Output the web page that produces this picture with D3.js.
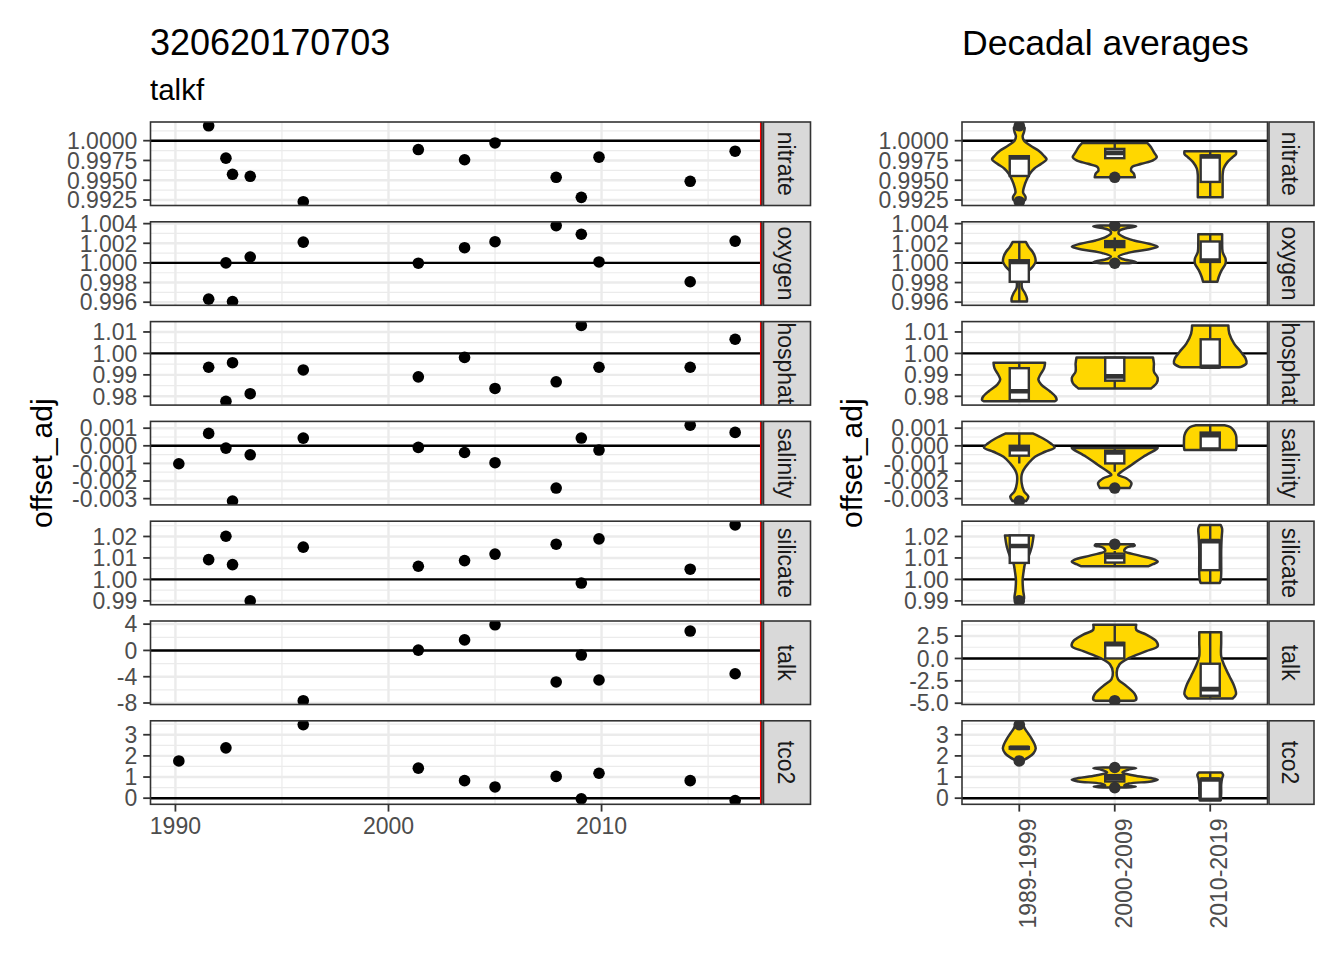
<!DOCTYPE html>
<html><head><meta charset="utf-8">
<script src="https://cdn.jsdelivr.net/npm/d3@7"></script>
<style>body{margin:0;background:#fff} text{font-family:"Liberation Sans", Arial, sans-serif}</style>
</head><body>
<svg id="c" width="1344" height="960"></svg>
<script>
// ---------------- data ----------------
const params = ["nitrate","oxygen","phosphate","salinity","silicate","talk","tco2"];
const refLine = [1, 1, 1, 0, 1, 0, 0];
const years = [1990.16, 1991.56, 1992.37, 1992.68, 1993.51, 1996.0, 2001.4, 2003.57, 2005.0, 2007.87, 2009.05, 2009.88, 2014.16, 2016.27];
const nitrate   = [null, 1.00188, 0.99779, 0.99575, 0.9955, 0.99229, 0.99888, 0.99759, 0.99971, 0.99537, 0.99284, 0.99792, 0.99487, 0.99867];
const oxygen    = [null, 0.99631, 1.0000, 0.99607, 1.0006, 1.00212, 0.99997, 1.00155, 1.00216, 1.0038, 1.00292, 1.0001, 0.99808, 1.00222];
const phosphate = [null, 0.99354, 0.97767, 0.99566, 0.98122, 0.99229, 0.98906, 0.99815, 0.98367, 0.98676, 1.01306, 0.99354, 0.99354, 1.0066];
const salinity  = [-0.00102, 0.000703, -0.00013, -0.00314, -0.00051, 0.000437, -0.00009, -0.00038, -0.00096, -0.0024, 0.00044, -0.00024, 0.00117, 0.00076];
const silicate  = [null, 1.00922, 1.0201, 1.00691, 0.98999, 1.01502, 1.00613, 1.00876, 1.0118, 1.0164, 0.9983, 1.0189, 1.00475, 1.02535];
const talk      = [null, null, null, null, null, -7.65, 0.05, 1.6, 3.9, -4.8, -0.7, -4.5, 2.95, -3.55];
const tco2      = [1.76, null, 2.38, null, null, 3.48, 1.42, 0.83, 0.53, 1.03, -0.03, 1.18, 0.83, -0.11];

const xDomain = [1988.83, 2017.53];
const cruiseYear = 2017.5;
const xMajor = [1990, 2000, 2010];
const xMinor = [1995, 2005, 2015];

const leftTicks  = [[0.9925,0.995,0.9975,1],[0.996,0.998,1,1.002,1.004],[0.98,0.99,1,1.01],[-0.003,-0.002,-0.001,0,0.001],[0.99,1,1.01,1.02],[-8,-4,0,4],[0,1,2,3]];
const rightTicks = [[0.9925,0.995,0.9975,1],[0.996,0.998,1,1.002,1.004],[0.98,0.99,1,1.01],[-0.003,-0.002,-0.001,0,0.001],[0.99,1,1.01,1.02],[-5,-2.5,0,2.5],[0,1,2,3]];
const leftFmt  = [".4f",".3f",".2f",".3f",".2f","d","d"];
const rightFmt = [".4f",".3f",".2f",".3f",".2f",".1f","d"];

const decades = ["1989-1999","2000-2009","2010-2019"];
// violin profiles: [value, half width in category units]; box: [lower whisker, q1, median, q3, upper whisker]
const vio_nitrate = [
  [[1.00188,0.03],[1.00167,0.055],[1.00113,0.05],[1.00054,0.035],[1.0,0.05],[0.99938,0.115],[0.99875,0.2],[0.99813,0.255],[0.99763,0.285],[0.99708,0.23],[0.99646,0.155],[0.99583,0.11],[0.995,0.075],[0.99417,0.05],[0.99346,0.04],[0.99292,0.065],[0.9925,0.06],[0.99229,0.03]],
  [[0.99971,0.34],[0.99917,0.38],[0.99854,0.41],[0.99792,0.44],[0.9975,0.40],[0.99708,0.28],[0.99667,0.18],[0.99625,0.17],[0.99583,0.2],[0.99537,0.21]],
  [[0.99867,0.27],[0.99833,0.27],[0.99792,0.235],[0.99729,0.18],[0.99646,0.14],[0.99563,0.13],[0.99479,0.13],[0.99396,0.13],[0.99284,0.13]]];
const box_nitrate = [[0.99554,0.99554,0.99788,0.99804,0.99804],[0.99779,0.99779,0.99846,0.99896,0.99971],[0.99284,0.99479,0.998,0.99813,0.99867]];
const out_nitrate = [[1.00188,0.99229],[0.99537],[]];

const vio_oxygen = [
  [[1.00212,0.07],[1.00161,0.1],[1.00111,0.14],[1.0006,0.165],[1.0001,0.17],[0.9996,0.14],[0.99909,0.09],[0.99842,0.04],[0.99792,0.025],[0.99741,0.03],[0.99691,0.06],[0.9964,0.08],[0.99607,0.08]],
  [[1.0038,0.15],[1.00372,0.225],[1.00355,0.13],[1.0033,0.05],[1.003,0.04],[1.00265,0.09],[1.00229,0.2],[1.00195,0.36],[1.00165,0.45],[1.00135,0.33],[1.001,0.13],[1.00065,0.04],[1.0004,0.08],[1.00015,0.2],[1.00005,0.225],[0.99997,0.15]],
  [[1.00292,0.125],[1.00212,0.125],[1.00111,0.13],[1.00044,0.16],[0.99993,0.16],[0.99926,0.12],[0.99859,0.09],[0.99808,0.075]]];
const box_oxygen = [[0.99607,0.99808,1.0001,1.00027,1.00212],[1.0012,1.00161,1.00195,1.00222,1.0026],[0.99808,1.0001,1.00025,1.00218,1.00292]];
const out_oxygen = [[],[1.0038,0.99997],[]];

const vio_phosphate = [
  [[0.99566,0.27],[0.99311,0.26],[0.99005,0.22],[0.98775,0.2],[0.98545,0.23],[0.98239,0.32],[0.97979,0.38],[0.97825,0.39],[0.97767,0.37]],
  [[0.99815,0.4],[0.99541,0.41],[0.99158,0.41],[0.98851,0.45],[0.98622,0.44],[0.98438,0.4],[0.98367,0.38]],
  [[1.01306,0.19],[1.00919,0.2],[1.00459,0.25],[1.00077,0.32],[0.9977,0.37],[0.99541,0.38],[0.99387,0.33],[0.99354,0.3]]];
const box_phosphate = [[0.97767,0.97825,0.98239,0.99311,0.99566],[0.98367,0.98729,0.98928,0.99801,0.99815],[0.99354,0.99354,0.99375,1.00658,1.01306]];
const out_phosphate = [[],[],[]];

const vio_salinity = [
  [[0.000703,0.14],[0.000414,0.25],[0.000132,0.33],[-0.000094,0.37],[-0.000338,0.27],[-0.00062,0.165],[-0.000996,0.095],[-0.00137,0.045],[-0.00165,0.025],[-0.00212,0.025],[-0.00259,0.05],[-0.00288,0.095],[-0.00314,0.07]],
  [[-0.00012,0.45],[-0.00018,0.44],[-0.00062,0.3],[-0.00109,0.175],[-0.00147,0.07],[-0.00165,0.035],[-0.00184,0.12],[-0.00212,0.175],[-0.0024,0.155]],
  [[0.00117,0.15],[0.00107,0.21],[0.00088,0.245],[0.0006,0.27],[0.000226,0.275],[-0.000056,0.275],[-0.00024,0.27]]];
const box_salinity = [[-0.001,-0.00056,-0.0002,0.0,0.000703],[-0.00147,-0.001,-0.00038,-0.00028,-0.00012],[-0.00024,-0.00015,0.0006,0.00075,0.00117]];
const out_salinity = [[-0.00314],[-0.0024],[]];

const vio_silicate = [
  [[1.0205,0.15],[1.01508,0.13],[1.01046,0.095],[1.00738,0.06],[1.00354,0.045],[0.99969,0.035],[0.99508,0.04],[0.99123,0.05],[0.98999,0.04]],
  [[1.0164,0.2],[1.0158,0.21],[1.0148,0.12],[1.0132,0.1],[1.0112,0.25],[1.0092,0.42],[1.0082,0.45],[1.0071,0.4],[1.0061,0.35]],
  [[1.02535,0.11],[1.02354,0.125],[1.01969,0.12],[1.01354,0.115],[1.00738,0.115],[1.00277,0.115],[0.99969,0.11],[0.9983,0.1]]];
const box_silicate = [[1.00769,1.00769,1.01554,1.0205,1.0205],[1.0061,1.00785,1.01046,1.012,1.0132],[0.9983,1.00431,1.01785,1.01815,1.02535]];
const out_silicate = [[0.98999],[1.0164],[]];

const vio_talk = [
  [],
  [[3.76,0.225],[3.21,0.225],[2.66,0.33],[1.92,0.435],[1.37,0.45],[0.81,0.33],[0.07,0.155],[-0.66,0.05],[-1.59,0.02],[-2.33,0.035],[-3.06,0.12],[-3.99,0.21],[-4.6,0.225],[-4.72,0.2]],
  [[2.92,0.115],[1.74,0.115],[0.26,0.115],[-0.85,0.15],[-1.96,0.2],[-3.06,0.25],[-3.99,0.27],[-4.47,0.235]]];
const box_talk = [null,[0.0,0.0,1.6,1.74,3.76],[-4.47,-4.17,-3.43,-0.59,2.92]];
const out_talk = [[],[-4.72],[]];

const vio_tco2 = [
  [[3.48,0.04],[3.28,0.06],[3.05,0.095],[2.81,0.13],[2.58,0.157],[2.35,0.172],[2.12,0.148],[1.93,0.095],[1.8,0.045],[1.76,0.03]],
  [[1.45,0.12],[1.42,0.225],[1.36,0.15],[1.22,0.08],[1.07,0.2],[0.95,0.38],[0.87,0.45],[0.79,0.38],[0.69,0.15],[0.6,0.1],[0.54,0.22],[0.5,0.12]],
  [[1.21,0.12],[1.1,0.135],[0.95,0.125],[0.64,0.115],[0.25,0.115],[-0.11,0.11]]];
const box_tco2 = [[2.34,2.34,2.38,2.42,2.42],[0.79,0.79,0.95,1.09,1.09],[-0.11,-0.03,0.88,0.92,1.21]];
const out_tco2 = [[3.48,1.76],[1.45,0.5],[]];

// lookup tables built from the named arrays
const leftSeries = {nitrate, oxygen, phosphate, salinity, silicate, talk, tco2};
const violins = {nitrate:vio_nitrate, oxygen:vio_oxygen, phosphate:vio_phosphate, salinity:vio_salinity, silicate:vio_silicate, talk:vio_talk, tco2:vio_tco2};
const boxes = {nitrate:box_nitrate, oxygen:box_oxygen, phosphate:box_phosphate, salinity:box_salinity, silicate:box_silicate, talk:box_talk, tco2:box_tco2};
const outliers = {nitrate:out_nitrate, oxygen:out_oxygen, phosphate:out_phosphate, salinity:out_salinity, silicate:out_silicate, talk:out_talk, tco2:out_tco2};

// ---------------- layout ----------------
const svg = d3.select("#c");
const defs = svg.append("defs");
const L = {x0:150.5, x1:762, s0:763.5, s1:810.5};
const R = {x0:962, x1:1267.5, s0:1269, s1:1314};
const top0 = 122, pH = 83.5, pStep = 99.8;
const tickLen = 7.3, tickGap = 5.9;
const FS = 23;
const PR = 5.8;
const GRID = "#EBEBEB", DARK = "#333333", TXT = "#4D4D4D";
const loc = d3.formatLocale({decimal:".", thousands:",", grouping:[3], currency:["",""], minus:"-"});
const expand = ([a,b]) => [a-(b-a)*0.05, b+(b-a)*0.05];

const x = d3.scaleLinear().domain(xDomain).range([L.x0, L.x1]);
const xc = d3.scalePoint().domain(decades).range([R.x0, R.x1]).padding(0.6);
const unit = xc.step();

let clipN = 0;
function clip(x0, y0, w, h){
  const id = "cp" + (clipN++);
  defs.append("clipPath").attr("id", id).append("rect").attr("x",x0).attr("y",y0).attr("width",w).attr("height",h);
  return `url(#${id})`;
}

function minorOf(ticks, dom){
  const s = ticks[1]-ticks[0];
  const m = [ticks[0]-s/2];
  for (let i=0;i<ticks.length-1;i++) m.push((ticks[i]+ticks[i+1])/2);
  m.push(ticks[ticks.length-1]+s/2);
  return m.filter(v => v>=dom[0] && v<=dom[1]);
}

function drawPanelBase(g, P, t, b, y, ticks, fmt, vMajor, vMinor, name){
  const dom = y.domain();
  g.append("rect").attr("x",P.x0).attr("y",t).attr("width",P.x1-P.x0).attr("height",b-t).attr("fill","#fff");
  minorOf(ticks, dom).forEach(v => g.append("line").attr("x1",P.x0).attr("x2",P.x1).attr("y1",y(v)).attr("y2",y(v)).attr("stroke",GRID).attr("stroke-width",1.2));
  vMinor.forEach(px => g.append("line").attr("x1",px).attr("x2",px).attr("y1",t).attr("y2",b).attr("stroke",GRID).attr("stroke-width",1.2));
  ticks.forEach(v => g.append("line").attr("x1",P.x0).attr("x2",P.x1).attr("y1",y(v)).attr("y2",y(v)).attr("stroke",GRID).attr("stroke-width",2.4));
  vMajor.forEach(px => g.append("line").attr("x1",px).attr("x2",px).attr("y1",t).attr("y2",b).attr("stroke",GRID).attr("stroke-width",2.4));
  const f = loc.format(fmt);
  ticks.forEach(v => {
    g.append("line").attr("x1",P.x0-tickLen).attr("x2",P.x0).attr("y1",y(v)).attr("y2",y(v)).attr("stroke",DARK).attr("stroke-width",1.8);
    g.append("text").attr("x",P.x0-tickLen-tickGap).attr("y",y(v)).attr("dy","0.36em").attr("text-anchor","end")
      .attr("font-size",FS).attr("fill",TXT).text(f(v));
  });
  // strip
  g.append("rect").attr("x",P.s0).attr("y",t).attr("width",P.s1-P.s0).attr("height",b-t).attr("fill","#D9D9D9").attr("stroke",DARK).attr("stroke-width",1.6);
  g.append("g").attr("clip-path", clip(P.s0, t, P.s1-P.s0, b-t))
    .append("text")
    .attr("transform",`translate(${(P.s0+P.s1)/2 - 1},${(t+b)/2}) rotate(90)`).attr("dy","0.35em")
    .attr("text-anchor","middle").attr("font-size",FS).attr("fill","#1A1A1A").text(name);
}

function border(g, P, t, b){
  g.append("rect").attr("x",P.x0).attr("y",t).attr("width",P.x1-P.x0).attr("height",b-t).attr("fill","none").attr("stroke",DARK).attr("stroke-width",1.6);
}

params.forEach((p, i) => {
  const t = top0 + i*pStep, b = t + pH;
  // ---- left panel
  const vals = leftSeries[p];
  const pts = years.map((yr, k) => ({yr, v: vals[k]})).filter(d => d.v !== null);
  const yl = d3.scaleLinear().domain(expand(d3.extent(pts.map(d=>d.v).concat([refLine[i]])))).range([b, t]);
  const gl = svg.append("g");
  drawPanelBase(gl, L, t, b, yl, leftTicks[i], leftFmt[i], xMajor.map(x), xMinor.map(x).filter(v=>v<L.x1), p);
  const cl = gl.append("g").attr("clip-path", clip(L.x0, t, L.x1-L.x0, b-t));
  cl.append("line").attr("x1",L.x0).attr("x2",L.x1).attr("y1",yl(refLine[i])).attr("y2",yl(refLine[i])).attr("stroke","#000").attr("stroke-width",2.4);
  cl.append("line").attr("x1",x(cruiseYear)).attr("x2",x(cruiseYear)).attr("y1",t).attr("y2",b).attr("stroke","#FF0000").attr("stroke-width",2.8);
  cl.selectAll("circle").data(pts).join("circle").attr("cx",d=>x(d.yr)).attr("cy",d=>yl(d.v)).attr("r",PR).attr("fill","#000");
  border(gl, L, t, b);

  // ---- right panel
  const vio = violins[p], bx = boxes[p], out = outliers[p];
  let allv = [refLine[i]];
  vio.forEach(a => a.forEach(d => allv.push(d[0])));
  bx.forEach(s => { if (s) allv = allv.concat(s); });
  out.forEach(a => allv = allv.concat(a));
  const yr = d3.scaleLinear().domain(expand(d3.extent(allv))).range([b, t]);
  const gr = svg.append("g");
  drawPanelBase(gr, R, t, b, yr, rightTicks[i], rightFmt[i], decades.map(d=>xc(d)), [], p);
  const cr = gr.append("g").attr("clip-path", clip(R.x0, t, R.x1-R.x0, b-t));
  cr.append("line").attr("x1",R.x0).attr("x2",R.x1).attr("y1",yr(refLine[i])).attr("y2",yr(refLine[i])).attr("stroke","#000").attr("stroke-width",2.4);
  decades.forEach((dec, k) => {
    const cx = xc(dec);
    if (vio[k].length) {
      const area = d3.area().curve(d3.curveCatmullRom.alpha(0.5))
        .y(d => yr(d[0])).x0(d => cx - d[1]*unit).x1(d => cx + d[1]*unit);
      cr.append("path").attr("d", area(vio[k])).attr("fill","#FFD700").attr("stroke",DARK).attr("stroke-width",2.5).attr("stroke-linejoin","round");
    }
    const s = bx[k];
    if (s) {
      const hw = 0.1*unit;
      cr.append("line").attr("x1",cx).attr("x2",cx).attr("y1",yr(s[4])).attr("y2",yr(s[3])).attr("stroke",DARK).attr("stroke-width",2.4);
      cr.append("line").attr("x1",cx).attr("x2",cx).attr("y1",yr(s[1])).attr("y2",yr(s[0])).attr("stroke",DARK).attr("stroke-width",2.4);
      cr.append("rect").attr("x",cx-hw).attr("width",2*hw).attr("y",yr(s[3])).attr("height",Math.max(0.5, yr(s[1])-yr(s[3])))
        .attr("fill","#fff").attr("stroke",DARK).attr("stroke-width",2.4);
      cr.append("line").attr("x1",cx-hw).attr("x2",cx+hw).attr("y1",yr(s[2])).attr("y2",yr(s[2])).attr("stroke",DARK).attr("stroke-width",4.6);
    }
    out[k].forEach(v => cr.append("circle").attr("cx",cx).attr("cy",yr(v)).attr("r",PR).attr("fill",DARK));
  });
  border(gr, R, t, b);
});

// ---- bottom axes
const bLast = top0 + 6*pStep + pH;
xMajor.forEach(v => {
  svg.append("line").attr("x1",x(v)).attr("x2",x(v)).attr("y1",bLast).attr("y2",bLast+tickLen).attr("stroke",DARK).attr("stroke-width",1.8);
  svg.append("text").attr("x",x(v)).attr("y",bLast+tickLen+tickGap+16.8).attr("text-anchor","middle").attr("font-size",FS).attr("fill",TXT).text(v);
});
decades.forEach(d => {
  const px = xc(d);
  svg.append("line").attr("x1",px).attr("x2",px).attr("y1",bLast).attr("y2",bLast+tickLen).attr("stroke",DARK).attr("stroke-width",1.8);
  svg.append("text").attr("transform",`translate(${px+17},${bLast+tickLen+tickGap+1}) rotate(-90)`).attr("text-anchor","end")
    .attr("font-size",FS).attr("fill",TXT).text(d);
});

// ---- titles
const midY = top0 + (6*pStep + pH)/2;
svg.append("text").attr("x",150).attr("y",55).attr("font-size",36).attr("fill","#000").text("320620170703");
svg.append("text").attr("x",150).attr("y",100).attr("font-size",29.5).attr("fill","#000").text("talkf");
svg.append("text").attr("x",962).attr("y",55).attr("font-size",35.6).attr("fill","#000").text("Decadal averages");
svg.append("text").attr("transform",`translate(52,${midY}) rotate(-90)`).attr("text-anchor","middle").attr("font-size",30).attr("fill","#000").text("offset_adj");
svg.append("text").attr("transform",`translate(862,${midY}) rotate(-90)`).attr("text-anchor","middle").attr("font-size",30).attr("fill","#000").text("offset_adj");
</script>
</body></html>
